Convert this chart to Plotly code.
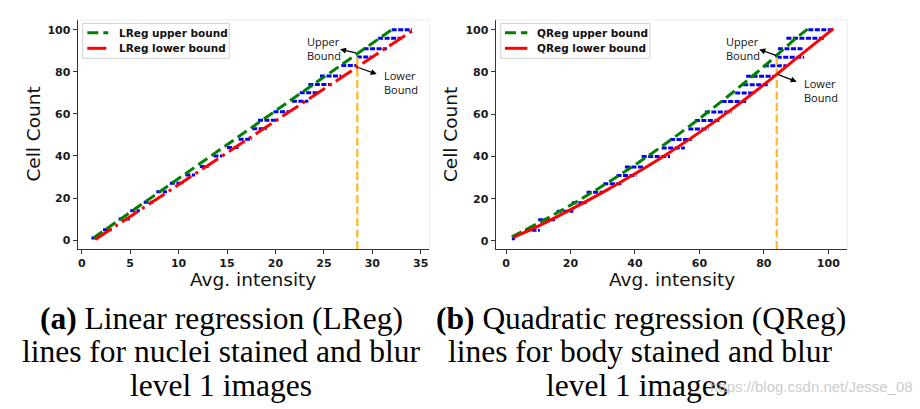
import plotly.graph_objects as go

# ---------------- data: (a) linear regression ----------------
lin_levels = [1, 5, 10, 14, 18, 23, 27, 31, 35, 40, 44, 48, 53, 57, 61, 66, 70, 74, 78, 83, 87, 91, 96, 100]
lin_start = [1.0, 2.2, 3.8, 5.0, 6.4, 7.7, 9.1, 10.7, 12.2, 13.6, 15.0, 16.2, 17.6, 18.2, 19.8, 21.7, 22.5, 23.4,
             24.6, 26.8, 28.4, 29.1, 30.6, 32.0]
lin_end = [1.7, 3.1, 5.0, 6.0, 7.4, 8.8, 10.5, 11.7, 13.1, 14.5, 16.2, 17.6, 19.1, 20.3, 21.4, 23.4, 24.4, 25.8,
           26.8, 28.4, 29.9, 31.5, 33.0, 34.1]
lin_upper_x = [1.2, 32.0]
lin_upper_y = [1.0, 100.0]
lin_lower_x = [1.4, 34.3]
lin_lower_y = [0.3, 100.0]
lin_vline_x = [28.45, 28.45]
lin_vline_y = [-4.14, 88.8]

# ---------------- data: (b) quadratic regression ----------------
quad_levels = [1, 5, 10, 14, 18, 23, 27, 31, 35, 40, 44, 48, 53, 57, 61, 66, 70, 74, 78, 83, 87, 91, 96, 100]
quad_start = [1.8, 5.9, 10.0, 15.7, 20.4, 25.0, 30.2, 34.3, 36.9, 42.1, 48.3, 50.9, 56.6, 58.6, 61.7, 66.9, 71.1,
              73.6, 74.5, 80.0, 84.0, 84.4, 87.0, 93.8]
quad_end = [2.8, 10.5, 15.2, 20.9, 25.0, 30.2, 35.9, 40.5, 42.6, 50.9, 55.5, 57.6, 62.8, 66.4, 70.0, 74.7, 77.3,
            81.4, 82.9, 87.0, 92.5, 92.5, 98.6, 101.6]
quad_upper_x = [1.8, 10, 20, 30, 40, 50, 60, 70, 80, 90, 93.6]
quad_upper_y = [1.9, 8.4, 16.9, 26.1, 36.0, 46.6, 57.9, 69.9, 82.6, 96.0, 100.3]
quad_lower_x = [2.3, 10, 20, 30, 40, 50, 60, 70, 80, 90, 101.6]
quad_lower_y = [1.7, 7.0, 14.8, 23.0, 31.8, 41.2, 51.4, 62.3, 74.0, 86.3, 100.5]
quad_vline_x = [84.0, 84.0]
quad_vline_y = [-3.79, 87.6]

legend_left = ["LReg upper bound", "LReg lower bound"]
legend_right = ["QReg upper bound", "QReg lower bound"]

BLUE, GREEN, RED, ORANGE = "#0000FF", "#008000", "#FF0000", "#FDBA2C"
DASH_GREEN = "11px,5px"
DASH_RED_L = "19px,5px,3px,5px"
DASH_BLUE = "5px,1.5px"


def steps(levels, starts, ends):
    xs, ys = [], []
    for l, s, e in zip(levels, starts, ends):
        xs += [s, e, None]
        ys += [l, l, None]
    return xs, ys


fig = go.Figure()

# left panel
bx, by = steps(lin_levels, lin_start, lin_end)
fig.add_trace(go.Scatter(x=bx, y=by, mode="lines", line=dict(color=BLUE, width=3, dash=DASH_BLUE),
                         showlegend=False, xaxis="x", yaxis="y"))
fig.add_trace(go.Scatter(x=lin_vline_x, y=lin_vline_y, mode="lines",
                         line=dict(color=ORANGE, width=2.3, dash="8px,3.5px"), showlegend=False, xaxis="x", yaxis="y"))
fig.add_trace(go.Scatter(x=lin_upper_x, y=lin_upper_y, mode="lines", name=legend_left[0], showlegend=False,
                         line=dict(color=GREEN, width=3, dash=DASH_GREEN), xaxis="x", yaxis="y"))
fig.add_trace(go.Scatter(x=lin_lower_x, y=lin_lower_y, mode="lines", name=legend_left[1], showlegend=False,
                         line=dict(color=RED, width=3, dash=DASH_RED_L), xaxis="x", yaxis="y"))

# right panel
bx, by = steps(quad_levels, quad_start, quad_end)
fig.add_trace(go.Scatter(x=bx, y=by, mode="lines", line=dict(color=BLUE, width=3, dash=DASH_BLUE),
                         showlegend=False, xaxis="x2", yaxis="y2"))
fig.add_trace(go.Scatter(x=quad_vline_x, y=quad_vline_y, mode="lines",
                         line=dict(color=ORANGE, width=2.3, dash="8px,3.5px"), showlegend=False, xaxis="x2", yaxis="y2"))
fig.add_trace(go.Scatter(x=quad_upper_x, y=quad_upper_y, mode="lines", name=legend_right[0], line_shape="spline",
                         showlegend=False, line=dict(color=GREEN, width=3, dash=DASH_GREEN), xaxis="x2", yaxis="y2"))
fig.add_trace(go.Scatter(x=quad_lower_x, y=quad_lower_y, mode="lines", name=legend_right[1], line_shape="spline",
                         showlegend=False, line=dict(color=RED, width=3), xaxis="x2", yaxis="y2"))

tickfont = dict(family="DejaVu Sans", size=11, color="#1a1a1a", weight="bold")
axis_common = dict(showline=True, linecolor="#333333", linewidth=1.3, ticks="outside", ticklen=4, tickwidth=1.2,
                   tickcolor="#333333", showgrid=False, zeroline=False, tickfont=tickfont, automargin=False)
ydom = [0.3915, 0.951]
fig.update_layout(
    width=920, height=409, margin=dict(l=0, r=0, t=0, b=0), showlegend=False,
    paper_bgcolor="white", plot_bgcolor="white",
    xaxis=dict(domain=[0.0845, 0.4667], range=[-0.41, 35.89], tickvals=[0, 5, 10, 15, 20, 25, 30, 35], anchor="y",
               **axis_common),
    yaxis=dict(domain=ydom, range=[-4.14, 104.6], tickvals=[0, 20, 40, 60, 80, 100], anchor="x", **axis_common),
    xaxis2=dict(domain=[0.5388, 0.921], range=[-3.2, 105.9], tickvals=[0, 20, 40, 60, 80, 100], anchor="y2",
                **axis_common),
    yaxis2=dict(domain=ydom, range=[-3.79, 104.6], tickvals=[0, 20, 40, 60, 80, 100], anchor="x2", **axis_common),
)

# faint top/right frame
for xr, yr in (("x", "y"), ("x2", "y2")):
    fig.add_shape(type="line", xref=f"{xr} domain", yref=f"{yr} domain", x0=0, x1=1, y0=1, y1=1,
                  line=dict(color="#ececec", width=1))
    fig.add_shape(type="line", xref=f"{xr} domain", yref=f"{yr} domain", x0=1, x1=1, y0=0, y1=1,
                  line=dict(color="#ececec", width=1))

annotations = []

# legend boxes (matplotlib-style, compact rows)
leg_font = dict(family="DejaVu Sans", size=10.5, color="#111111", weight="bold")
for (bx0, bx1, sx0, sx1, tx), names, red_dash in (
        ((0.0899, 0.2492, 0.0949, 0.1177, 0.1268), legend_left, DASH_RED_L),
        ((0.5442, 0.7065, 0.5489, 0.5732, 0.5815), legend_right, "solid")):
    fig.add_shape(type="rect", xref="paper", yref="paper", x0=bx0, x1=bx1, y0=0.8575, y1=0.943,
                  line=dict(color="#d0d0d0", width=1), fillcolor="rgba(255,255,255,0.85)")
    for row_y, name, col, dash in ((0.920, names[0], GREEN, DASH_GREEN), (0.8819, names[1], RED, red_dash)):
        fig.add_shape(type="line", xref="paper", yref="paper", x0=sx0, x1=sx1, y0=row_y, y1=row_y,
                      line=dict(color=col, width=3, dash=dash))
        annotations.append(dict(text=name, x=tx, y=row_y, xref="paper", yref="paper", xanchor="left",
                                yanchor="middle", showarrow=False, font=leg_font))

ann_font = dict(family="Open Sans", size=11, color="#111111")
title_font = dict(family="DejaVu Sans", size=18.5, color="#111111")
annotations += [
    # axis titles
    dict(text="Cell Count", x=0.0362, y=0.6716, xref="paper", yref="paper", textangle=-90, showarrow=False,
         font=title_font, xanchor="center", yanchor="middle"),
    dict(text="Cell Count", x=0.49, y=0.6716, xref="paper", yref="paper", textangle=-90, showarrow=False,
         font=title_font, xanchor="center", yanchor="middle"),
    dict(text="Avg. intensity", x=0.2755, y=0.3178, xref="paper", yref="paper", showarrow=False, font=title_font,
         xanchor="center", yanchor="middle"),
    dict(text="Avg. intensity", x=0.7299, y=0.3178, xref="paper", yref="paper", showarrow=False, font=title_font,
         xanchor="center", yanchor="middle"),
    # left panel callouts
    dict(text="Upper<br>Bound", x=23.05, y=91.2, xref="x", yref="y", xanchor="left", yanchor="middle",
         align="left", showarrow=False, font=ann_font),
    dict(text="Lower<br>Bound", x=30.97, y=74.7, xref="x", yref="y", xanchor="left", yanchor="middle",
         align="left", showarrow=False, font=ann_font),
    dict(text="", x=26.67, y=90.7, ax=28.45, ay=88.8, xref="x", yref="y", axref="x", ayref="y", showarrow=True,
         arrowhead=2, arrowsize=1, arrowwidth=1.2, arrowcolor="#000000"),
    dict(text="", x=30.46, y=78.9, ax=28.45, ay=82.2, xref="x", yref="y", axref="x", ayref="y", showarrow=True,
         arrowhead=2, arrowsize=1, arrowwidth=1.2, arrowcolor="#000000"),
    # right panel callouts
    dict(text="Upper<br>Bound", x=67.6, y=91.1, xref="x2", yref="y2", xanchor="left", yanchor="middle",
         align="left", showarrow=False, font=ann_font),
    dict(text="Lower<br>Bound", x=91.7, y=71.1, xref="x2", yref="y2", xanchor="left", yanchor="middle",
         align="left", showarrow=False, font=ann_font),
    dict(text="", x=78.6, y=90.7, ax=84.2, ay=87.6, xref="x2", yref="y2", axref="x2", ayref="y2", showarrow=True,
         arrowhead=2, arrowsize=1, arrowwidth=1.2, arrowcolor="#000000"),
    dict(text="", x=90.2, y=75.4, ax=84.0, ay=79.0, xref="x2", yref="y2", axref="x2", ayref="y2", showarrow=True,
         arrowhead=2, arrowsize=1, arrowwidth=1.2, arrowcolor="#000000"),
]

cap_font = dict(family="Liberation Serif", size=31.5, color="#000000")
captions = [
    ("<b>(a)</b> Linear regression (LReg)", 0.2413, 0.2215),
    ("lines for nuclei stained and blur", 0.2413, 0.1394),
    ("level 1 images", 0.2398, 0.0572),
    ("<b>(b)</b> Quadratic regression (QReg)", 0.6967, 0.2215),
    ("lines for body stained and blur", 0.6967, 0.1394),
    ("level 1 images", 0.6924, 0.0572),
]
for txt, x, y in captions:
    annotations.append(dict(text=txt, x=x, y=y, xref="paper", yref="paper", showarrow=False, font=cap_font,
                            xanchor="center", yanchor="middle"))

annotations.append(dict(text="https://blog.csdn.net/Jesse_08", x=0.995, y=0.055, xref="paper", yref="paper",
                        xanchor="right", yanchor="middle", showarrow=False,
                        font=dict(family="Liberation Sans", size=15, color="rgba(190,190,190,0.8)")))

fig.update_layout(annotations=annotations)
fig.write_html("out.html")
